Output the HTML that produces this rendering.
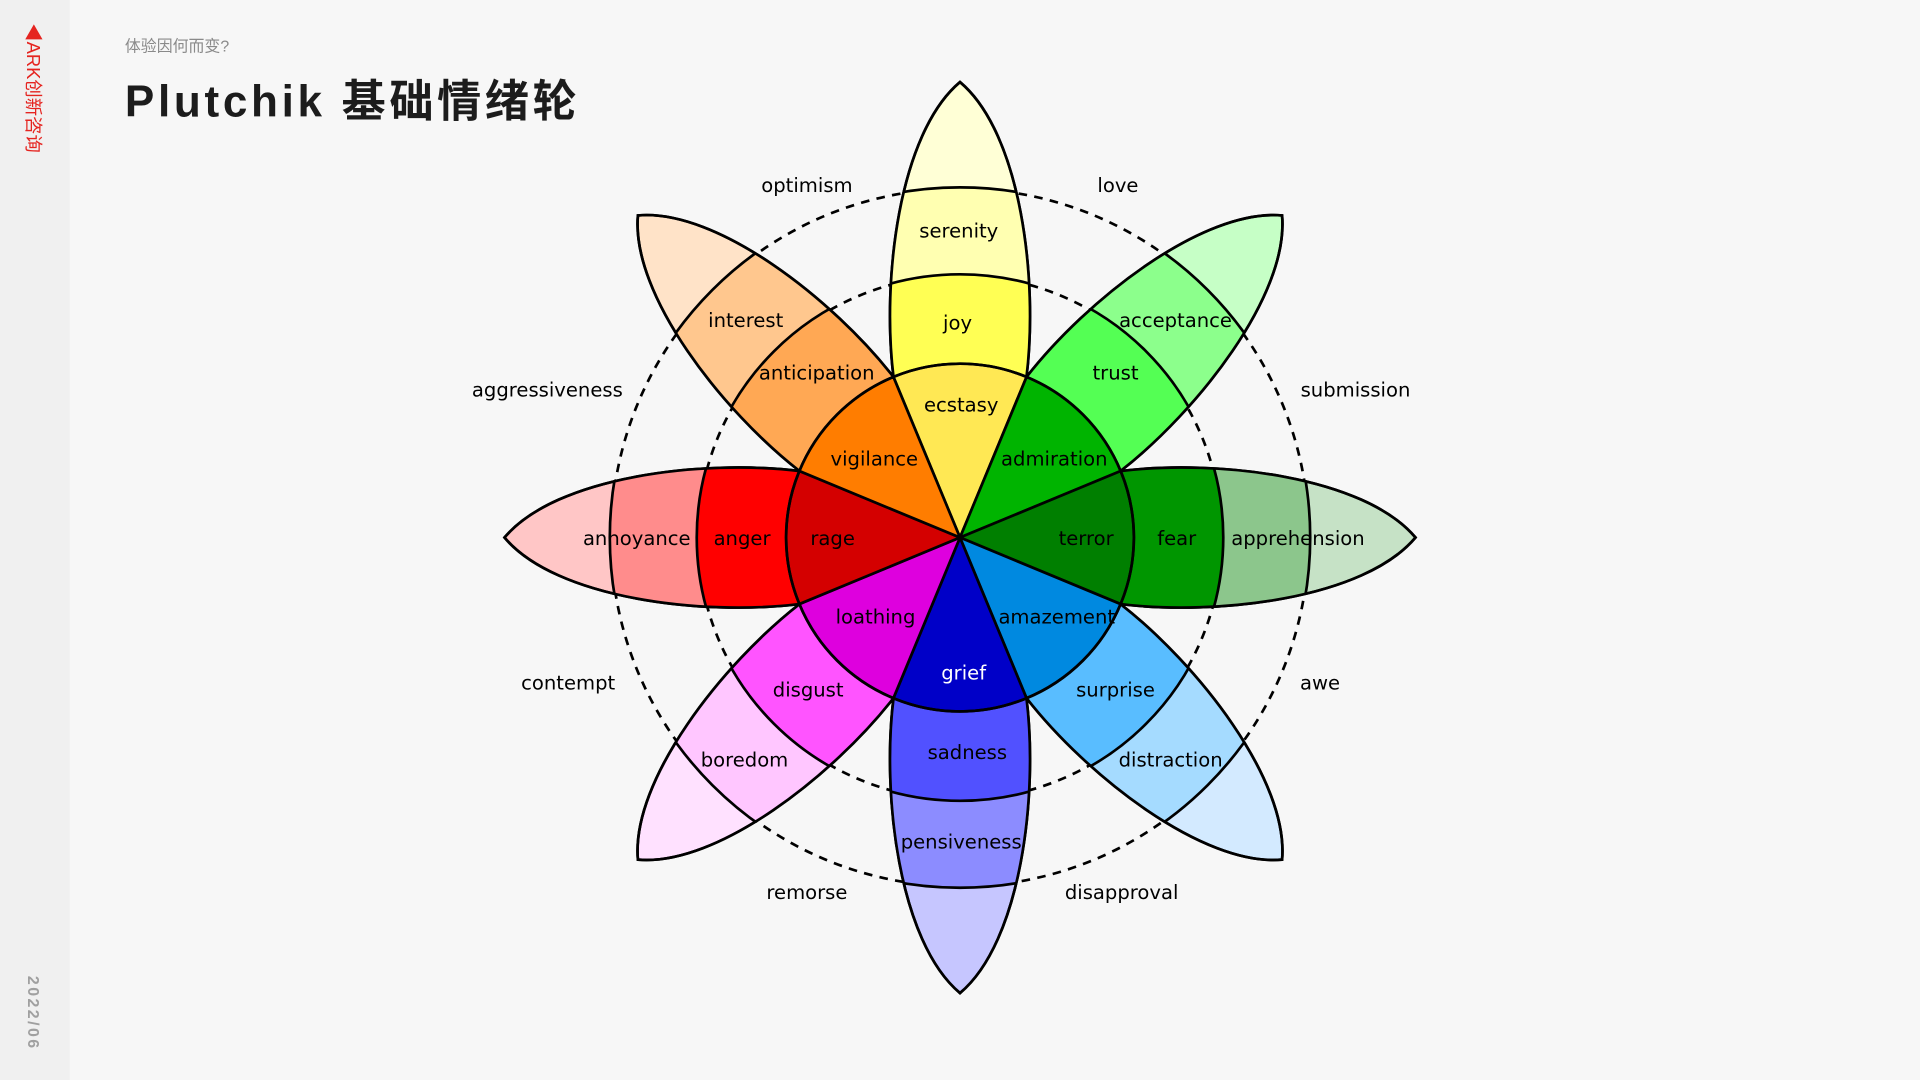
<!DOCTYPE html>
<html><head><meta charset="utf-8"><style>
html,body{margin:0;padding:0;width:1920px;height:1080px;overflow:hidden;background:#f7f7f7}
svg{display:block}
text{font-family:"DejaVu Sans","Liberation Sans",sans-serif}
</style></head><body>
<svg width="1920" height="1080" viewBox="0 0 1568 882" xmlns="http://www.w3.org/2000/svg" xmlns:xlink="http://www.w3.org/1999/xlink">
<defs>
<path id="pp" d="M -54.3 -131.2 C -64 -210 -50 -330 0 -372 C 50 -330 64 -210 54.3 -131.2 Z"/>
<path id="wd" d="M0 0 L -54.3 -131.2 A142 142 0 0 1 54.3 -131.2 Z"/>
<clipPath id="pc"><use xlink:href="#pp"/></clipPath>
</defs>
<rect x="0" y="0" width="1568" height="882" fill="#f7f7f7"/>
<rect x="0" y="0" width="57" height="882" fill="#f0f0f0"/>
<text transform="translate(22,19) rotate(90)" font-size="15" fill="#e52420" style="font-family:'Liberation Sans','Noto Sans CJK SC',sans-serif">◀ARK创新咨询</text>
<text transform="translate(23,797) rotate(90)" font-size="13" font-weight="bold" fill="#a0a0a0" letter-spacing="2" style="font-family:'Liberation Sans',sans-serif">2022/06</text>
<text x="102" y="42" font-size="13" fill="#8a8a8a" style="font-family:'Liberation Sans','Noto Sans CJK SC',sans-serif">体验因何而变?</text>
<text x="102" y="95" font-size="36" font-weight="bold" fill="#1c1c1c" letter-spacing="3" style="font-family:'Liberation Sans','Noto Sans CJK SC',sans-serif">Plutchik 基础情绪轮</text>

<g transform="translate(784,439)">
<circle r="285" fill="none" stroke="#000" stroke-width="2.2" stroke-dasharray="7,6"/>
<circle r="214" fill="none" stroke="#000" stroke-width="2.2" stroke-dasharray="7,6"/>
</g>

<g stroke="#000" stroke-width="2.2">
<g transform="translate(784,439) rotate(0)"><use xlink:href="#pp" fill="#ffffd6"/><g clip-path="url(#pc)"><circle r="286" fill="#ffffb1"/><circle r="215" fill="#ffff54"/></g><use xlink:href="#pp" fill="none"/></g>
<g transform="translate(784,439) rotate(45)"><use xlink:href="#pp" fill="#c6ffc6"/><g clip-path="url(#pc)"><circle r="286" fill="#8cff8c"/><circle r="215" fill="#54ff54"/></g><use xlink:href="#pp" fill="none"/></g>
<g transform="translate(784,439) rotate(90)"><use xlink:href="#pp" fill="#c6e2c6"/><g clip-path="url(#pc)"><circle r="286" fill="#8cc68c"/><circle r="215" fill="#009600"/></g><use xlink:href="#pp" fill="none"/></g>
<g transform="translate(784,439) rotate(135)"><use xlink:href="#pp" fill="#d3eaff"/><g clip-path="url(#pc)"><circle r="286" fill="#a5dbff"/><circle r="215" fill="#59bdff"/></g><use xlink:href="#pp" fill="none"/></g>
<g transform="translate(784,439) rotate(180)"><use xlink:href="#pp" fill="#c6c6ff"/><g clip-path="url(#pc)"><circle r="286" fill="#8c8cff"/><circle r="215" fill="#5151ff"/></g><use xlink:href="#pp" fill="none"/></g>
<g transform="translate(784,439) rotate(225)"><use xlink:href="#pp" fill="#ffe1ff"/><g clip-path="url(#pc)"><circle r="286" fill="#ffc6ff"/><circle r="215" fill="#ff54ff"/></g><use xlink:href="#pp" fill="none"/></g>
<g transform="translate(784,439) rotate(270)"><use xlink:href="#pp" fill="#ffc6c6"/><g clip-path="url(#pc)"><circle r="286" fill="#ff8c8c"/><circle r="215" fill="#ff0000"/></g><use xlink:href="#pp" fill="none"/></g>
<g transform="translate(784,439) rotate(315)"><use xlink:href="#pp" fill="#ffe3c8"/><g clip-path="url(#pc)"><circle r="286" fill="#ffc78e"/><circle r="215" fill="#ffa854"/></g><use xlink:href="#pp" fill="none"/></g>

<g stroke-linejoin="round">
<use xlink:href="#wd" transform="translate(784,439) rotate(0)" fill="#ffe854"/>
<use xlink:href="#wd" transform="translate(784,439) rotate(45)" fill="#00b400"/>
<use xlink:href="#wd" transform="translate(784,439) rotate(90)" fill="#007f00"/>
<use xlink:href="#wd" transform="translate(784,439) rotate(135)" fill="#0089e0"/>
<use xlink:href="#wd" transform="translate(784,439) rotate(180)" fill="#0000c8"/>
<use xlink:href="#wd" transform="translate(784,439) rotate(225)" fill="#de00de"/>
<use xlink:href="#wd" transform="translate(784,439) rotate(270)" fill="#d40000"/>
<use xlink:href="#wd" transform="translate(784,439) rotate(315)" fill="#ff7d00"/>
</g>
<circle cx="784" cy="439" r="142" fill="none"/>
</g>

<g font-size="16" fill="#000" text-anchor="middle">
<text x="659" y="157">optimism</text>
<text x="913" y="157">love</text>
<text x="447" y="324">aggressiveness</text>
<text x="1107" y="324">submission</text>
<text x="464" y="563">contempt</text>
<text x="1078" y="563">awe</text>
<text x="659" y="734">remorse</text>
<text x="916" y="734">disapproval</text>
<text x="783" y="194">serenity</text>
<text x="782" y="269">joy</text>
<text x="785" y="336">ecstasy</text>
<text x="609" y="267">interest</text>
<text x="667" y="310">anticipation</text>
<text x="714" y="380">vigilance</text>
<text x="960" y="267">acceptance</text>
<text x="911" y="310">trust</text>
<text x="861" y="380">admiration</text>
<text x="520" y="445">annoyance</text>
<text x="606" y="445">anger</text>
<text x="680" y="445">rage</text>
<text x="887" y="445">terror</text>
<text x="961" y="445">fear</text>
<text x="1060" y="445">apprehension</text>
<text x="715" y="509">loathing</text>
<text x="863" y="509">amazement</text>
<text x="787" y="555" fill="#fff">grief</text>
<text x="660" y="569">disgust</text>
<text x="911" y="569">surprise</text>
<text x="608" y="626">boredom</text>
<text x="956" y="626">distraction</text>
<text x="790" y="620">sadness</text>
<text x="785" y="693">pensiveness</text>
</g>
</svg>
</body></html>
